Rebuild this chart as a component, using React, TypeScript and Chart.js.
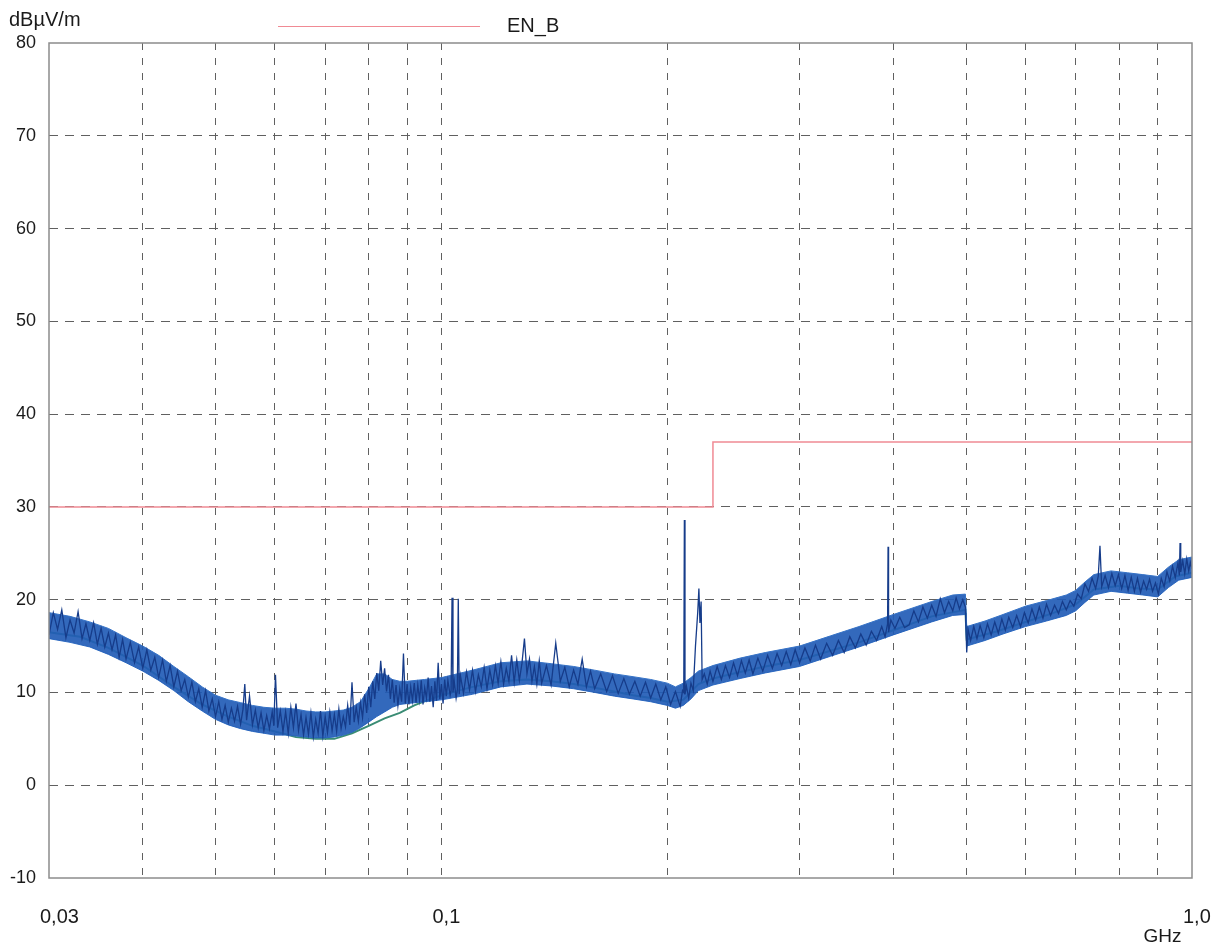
import React, { useEffect, useRef } from "react";
import { Chart, registerables } from "chart.js";

Chart.register(...registerables);

// ---- axis definitions ----
const xTickValues = [30, 40, 50, 60, 70, 80, 90, 100, 200, 300, 400, 500, 600, 700, 800, 900, 1000];
const xTickLabels: Record<number, string> = { 30: "0,03", 100: "0,1", 1000: "1,0" };
const yMin = -10;
const yMax = 80;
const yStep = 10;
const yUnit = "dBµV/m";
const xUnit = "GHz";
const legendLabel = "EN_B";

// ---- limit line EN_B (frequency in MHz, level in dBµV/m) ----
const limitFreq = [30, 230, 230, 1000];
const limitLevel = [30, 30, 37, 37];

// ---- noise band envelope of the peak trace (MHz, dBµV/m) ----
const bandFreq = [
  30, 32, 34, 36, 38, 40, 42, 44, 46, 48,
  50, 52, 54, 56, 58, 60, 62, 64, 66, 68,
  70, 72, 74, 76, 78, 80, 82, 84, 86, 88,
  90, 95, 100, 110, 120, 130, 140, 150, 160, 170,
  180, 190, 200, 205, 210, 215, 220, 225, 230, 250,
  270, 300, 330, 360, 400, 450, 480, 499, 501, 530,
  560, 600, 640, 680, 700, 720, 740, 780, 820, 860,
  900, 930, 960, 1000,
];
const bandLow = [
  15.8, 15.4, 14.9, 14.1, 13.2, 12.3, 11.3, 10.2, 9.0, 8.0,
  7.1, 6.5, 6.1, 5.8, 5.6, 5.4, 5.4, 5.3, 5.2, 5.1,
  5.1, 5.2, 5.4, 5.7, 6.2, 6.8, 7.4, 7.9, 8.4, 8.7,
  8.8, 9.0, 9.2, 9.8, 10.6, 10.9, 10.7, 10.4, 10.0, 9.6,
  9.3, 9.0, 8.6, 8.3, 8.6, 9.3, 10.2, 10.5, 10.8, 11.5,
  12.1, 12.8, 13.9, 14.9, 16.2, 17.6, 18.3, 18.4, 15.0, 15.6,
  16.3, 17.1, 17.7, 18.3, 18.8, 19.7, 20.5, 20.9, 20.7, 20.5,
  20.3, 21.3, 22.1, 22.4,
];
const bandHigh = [
  18.6, 18.2, 17.6, 16.9, 15.9, 15.0, 14.0, 12.8, 11.7, 10.6,
  9.7, 9.2, 8.9, 8.6, 8.4, 8.3, 8.3, 8.2, 8.0, 7.9,
  7.9, 8.0, 8.1, 8.4, 9.0, 10.4, 12.0, 12.0, 11.4, 11.2,
  11.2, 11.4, 11.6, 12.4, 13.2, 13.4, 13.1, 12.8, 12.4, 12.0,
  11.7, 11.4, 11.0, 10.6, 11.0, 11.6, 12.3, 12.6, 12.9, 13.7,
  14.3, 15.0, 16.1, 17.1, 18.4, 19.8, 20.5, 20.6, 17.1, 17.7,
  18.4, 19.3, 19.9, 20.5, 21.0, 21.9, 22.7, 23.1, 22.9, 22.7,
  22.5, 23.5, 24.3, 24.6,
];

// ---- peak trace (blue) ----
const peakFreq = [
  30, 30.4, 30.8, 31.2, 31.6, 32, 32.4, 32.8, 33.2, 33.6,
  34, 34.4, 34.8, 35.2, 35.6, 36, 36.4, 36.8, 37.2, 37.6,
  38, 38.5, 39, 39.5, 40, 40.5, 41, 41.5, 42, 42.5,
  43, 43.5, 44, 44.5, 45, 45.5, 46, 46.5, 47, 47.5,
  48, 48.5, 49, 49.5, 50, 50.5, 51, 51.5, 52, 52.5,
  53, 53.5, 54, 54.4, 54.7, 55, 55.5, 56, 56.5, 57,
  57.5, 58, 58.5, 59, 59.5, 59.8, 60.1, 60.5, 61, 61.5,
  62, 62.5, 63, 63.5, 64, 64.5, 65, 65.5, 66, 66.5,
  67, 67.5, 68, 68.5, 69, 69.5, 70, 70.5, 71, 71.5,
  72, 72.5, 73, 73.5, 74, 74.5, 75, 75.5, 76, 76.5,
  77, 77.5, 78, 78.5, 79, 79.5, 80, 80.5, 81, 81.5,
  82, 82.5, 83, 83.5, 84, 84.5, 85, 85.5, 86, 86.5,
  87, 87.5, 88, 88.5, 89, 89.5, 90, 90.5, 91, 91.5,
  92, 92.5, 93, 93.5, 94, 94.5, 95, 95.5, 96, 96.5,
  97, 97.5, 98, 98.5, 99, 99.5, 100, 100.5, 101, 101.5,
  102, 102.7, 103, 103.3, 103.6, 104, 104.6, 105, 105.3, 105.6,
  106, 107, 108, 109, 110, 111, 112, 113, 114, 115,
  116, 117, 118, 119, 120, 121, 122, 123, 124, 125,
  126, 127, 128, 129, 130, 131, 132, 133, 134, 135,
  136, 138, 140, 142, 144, 146, 148, 150, 152, 154,
  156, 158, 160, 163, 166, 169, 172, 175, 178, 181,
  184, 187, 190, 193, 196, 199, 202, 205, 208, 209.5,
  210.3, 210.7, 211.1, 212, 213.5, 215, 216.5, 218, 219.5, 220.3,
  221, 221.8, 222.5, 224, 226, 228, 230, 233, 236, 239,
  242, 245, 248, 251, 254, 257, 260, 264, 268, 272,
  276, 280, 284, 288, 292, 296, 300, 305, 310, 315,
  320, 326, 332, 338, 344, 350, 356, 362, 368, 374,
  380, 386, 390, 393, 393.6, 394.2, 397, 402, 408, 414,
  420, 426, 432, 438, 444, 450, 456, 462, 468, 474,
  480, 485, 490, 495, 499, 501, 503, 507, 512, 517,
  522, 528, 534, 540, 546, 552, 558, 564, 570, 577,
  584, 591, 598, 605, 612, 619, 626, 633, 640, 648,
  656, 664, 672, 680, 688, 696, 704, 712, 720, 728,
  736, 744, 750, 754, 758, 766, 774, 782, 790, 798,
  806, 814, 822, 830, 838, 846, 854, 862, 870, 878,
  886, 894, 902, 910, 918, 926, 934, 942, 950, 958,
  962, 964, 966, 972, 978, 984, 990, 995, 1000,
];
const peakLevel = [
  16.2, 18.6, 16.8, 18.9, 15.9, 17.8, 16.4, 18.7, 15.8, 17.4,
  15.6, 17.5, 15.2, 16.9, 14.9, 16.4, 14.6, 16.2, 13.8, 15.7,
  13.6, 15.4, 13.2, 14.9, 12.6, 14.6, 12.4, 13.8, 11.6, 13.5,
  11.2, 12.9, 10.6, 12.3, 10.2, 11.4, 9.5, 11.1, 9.0, 10.4,
  8.4, 10.2, 8.0, 9.3, 7.4, 9.0, 7.1, 8.6, 6.8, 8.3,
  6.9, 8.5, 6.6, 8.2, 10.9, 7.0, 9.6, 6.5, 8.1, 6.2,
  7.8, 5.9, 7.5, 6.1, 7.9, 6.4, 11.9, 6.2, 8.0, 5.8,
  7.9, 5.6, 8.4, 6.2, 8.8, 5.9, 7.6, 5.4, 7.3, 5.5,
  7.8, 5.2, 7.1, 5.6, 8.0, 5.3, 7.4, 5.7, 7.9, 5.9,
  7.6, 5.8, 8.2, 6.1, 7.4, 6.3, 8.6, 6.5, 11.1, 6.8,
  8.4, 6.9, 8.9, 7.3, 9.8, 7.8, 10.6, 8.4, 11.2, 9.3,
  12.1, 10.2, 13.4, 10.8, 12.6, 10.1, 11.9, 9.3, 11.4, 8.9,
  10.8, 8.6, 10.4, 9.0, 14.2, 8.8, 10.9, 8.7, 10.6, 9.1,
  11.0, 8.9, 10.8, 9.2, 11.3, 8.7, 10.5, 9.4, 11.6, 9.0,
  10.7, 8.4, 11.2, 9.1, 13.2, 9.3, 10.9, 8.8, 11.4, 9.6,
  11.3, 9.7, 10.2, 20.2, 10.0, 11.2, 9.4, 10.3, 20.1, 9.8,
  11.8, 9.9, 12.2, 10.3, 12.4, 10.1, 11.9, 10.6, 12.7, 10.4,
  12.4, 10.8, 12.9, 11.0, 13.3, 10.9, 12.6, 11.2, 14.0, 11.1,
  13.5, 11.3, 13.1, 15.8, 12.0, 13.6, 11.2, 12.8, 10.9, 13.4,
  11.0, 12.9, 10.8, 15.3, 11.2, 12.7, 10.6, 12.4, 10.9, 13.6,
  10.6, 12.3, 10.4, 12.0, 10.1, 11.8, 9.9, 11.5, 9.8, 11.2,
  9.6, 11.1, 9.4, 10.9, 9.2, 10.6, 8.7, 10.1, 8.5, 10.2,
  10.0, 28.6, 9.8, 10.7, 9.4, 11.0, 10.2, 15.0, 18.6, 21.2,
  17.5, 19.8, 11.4, 12.0, 10.9, 12.3, 11.2, 12.8, 11.4, 12.9,
  11.6, 13.2, 11.8, 13.4, 12.1, 13.5, 12.0, 13.7, 12.3, 14.0,
  12.6, 14.2, 12.9, 14.4, 13.0, 14.6, 13.2, 14.8, 13.4, 15.1,
  13.6, 15.3, 14.0, 15.6, 14.3, 16.0, 14.8, 16.3, 15.1, 16.6,
  15.6, 17.1, 16.0, 17.4, 25.7, 16.5, 17.8, 16.9, 18.1, 17.0,
  17.3, 18.8, 17.6, 19.2, 18.0, 19.4, 18.2, 20.1, 18.6, 19.8,
  18.8, 20.2, 19.0, 20.0, 19.2, 14.3, 16.8, 15.6, 17.1, 15.8,
  17.2, 15.9, 17.4, 16.2, 17.6, 16.4, 17.9, 16.7, 18.1, 17.0,
  18.3, 17.1, 18.6, 17.5, 19.0, 17.8, 19.2, 18.0, 19.5, 18.3,
  19.4, 18.5, 19.8, 18.9, 19.9, 19.3, 20.6, 20.1, 21.7, 20.9,
  22.3, 21.2, 22.5, 25.8, 21.4, 22.6, 21.3, 22.8, 21.5, 22.7,
  21.2, 22.6, 21.0, 22.4, 20.9, 22.3, 20.8, 22.0, 21.1, 22.2,
  20.9, 21.8, 20.6, 22.3, 21.4, 23.0, 22.0, 23.6, 22.4, 24.0,
  22.6, 26.1, 23.0, 24.2, 22.8, 24.4, 23.1, 24.0, 23.3,
];

// ---- average trace (green) ----
const avgFreq = [
  30, 33, 36, 40, 44, 48, 52, 56, 60, 64,
  68, 72, 76, 80, 84, 88, 92, 96, 100, 110,
  120, 130, 140, 150, 160, 170, 180, 190, 200, 210,
  220, 230, 250, 270, 300, 330, 360, 400, 450, 499,
  501, 550, 600, 650, 700, 740, 800, 850, 900, 950, 1000,
];
const avgLevel = [
  16.5, 16.0, 14.8, 12.9, 10.6, 8.7, 7.4, 6.4, 5.8, 5.2,
  5.0, 5.0, 5.6, 6.4, 7.2, 7.8, 8.6, 9.2, 9.7, 10.6,
  11.2, 11.4, 11.2, 10.9, 10.5, 10.1, 9.7, 9.4, 9.0, 9.2,
  10.9, 11.5, 12.2, 12.8, 13.5, 14.5, 15.4, 16.7, 18.2, 18.9,
  15.7, 16.6, 17.6, 18.5, 19.5, 21.1, 21.5, 21.2, 21.1, 22.5, 22.9,
];

const limitColor = "#f08a94";
const peakColor = "#163c8a";
const bandColor = "rgba(34, 92, 182, 0.92)";
const bandEdge = "#3572c6";
const avgColor = "#3a8c74";
const gridColor = "#606060";
const frameColor = "#8c8c8c";
const fontFamily = "'Liberation Sans', Arial, Helvetica, sans-serif";

const decorPlugin = {
  id: "decor",
  afterDraw(chart: any) {
    const { ctx, chartArea: a } = chart;
    ctx.save();
    ctx.strokeStyle = frameColor;
    ctx.lineWidth = 1.5;
    ctx.strokeRect(a.left, a.top, a.right - a.left, a.bottom - a.top);
    ctx.fillStyle = "#1a1a1a";
    ctx.textAlign = "left";
    ctx.textBaseline = "alphabetic";
    ctx.font = `20px ${fontFamily}`;
    ctx.fillText(yUnit, 9, 26);
    ctx.textBaseline = "middle";
    ctx.fillText(legendLabel, 507, 26);
    ctx.font = `19px ${fontFamily}`;
    ctx.textAlign = "center";
    ctx.fillText(xUnit, 1162.5, 937);
    ctx.strokeStyle = limitColor;
    ctx.lineWidth = 1.2;
    ctx.beginPath();
    ctx.moveTo(278, 26.5);
    ctx.lineTo(480, 26.5);
    ctx.stroke();
    ctx.restore();
  },
};

export default function App() {
  const canvasRef = useRef<HTMLCanvasElement | null>(null);

  useEffect(() => {
    document.body.style.margin = "0";
    const canvas = canvasRef.current;
    if (!canvas) return;
    const toPoints = (fs: number[], ls: number[]) => fs.map((f, i) => ({ x: f, y: ls[i] }));
    const edgeX = (v: number) => v === 30 || v === 1000;
    const edgeY = (v: number) => v === yMin || v === yMax;

    const chart = new Chart(canvas, {
      type: "line",
      data: {
        datasets: [
          {
            label: legendLabel,
            data: toPoints(limitFreq, limitLevel),
            borderColor: limitColor,
            borderWidth: 1.5,
            pointRadius: 0,
            tension: 0,
            order: 0,
          },
          {
            label: "Peak",
            data: toPoints(peakFreq, peakLevel),
            borderColor: peakColor,
            borderWidth: 1.3,
            pointRadius: 0,
            tension: 0,
            order: 1,
          },
          {
            label: "Band low",
            data: toPoints(bandFreq, bandLow),
            borderColor: bandEdge,
            borderWidth: 1,
            pointRadius: 0,
            tension: 0,
            fill: false,
            order: 3,
          },
          {
            label: "Band high",
            data: toPoints(bandFreq, bandHigh),
            borderColor: bandEdge,
            backgroundColor: bandColor,
            borderWidth: 1,
            pointRadius: 0,
            tension: 0,
            fill: "-1",
            order: 2,
          },
          {
            label: "Average",
            data: toPoints(avgFreq, avgLevel),
            borderColor: avgColor,
            borderWidth: 2,
            pointRadius: 0,
            tension: 0,
            order: 4,
          },
        ],
      },
      options: {
        responsive: false,
        animation: false,
        layout: { padding: { top: 43, right: 31, left: 0, bottom: 0 } },
        plugins: {
          legend: { display: false },
          tooltip: { enabled: false },
        },
        scales: {
          x: {
            type: "logarithmic",
            min: 30,
            max: 1000,
            afterBuildTicks: (scale: any) => {
              scale.ticks = xTickValues.map((v) => ({ value: v }));
            },
            afterFit: (scale: any) => {
              scale.height = 68;
              scale.paddingLeft = 0;
              scale.paddingRight = 0;
            },
            ticks: {
              autoSkip: false,
              maxRotation: 0,
              minRotation: 0,
              padding: 27,
              align: "start",
              labelOffset: -9,
              color: "#1a1a1a",
              font: { size: 20, family: fontFamily },
              callback: (v: any) => xTickLabels[Number(v)] ?? "",
            },
            grid: {
              drawTicks: false,
              lineWidth: 1,
              color: (c: any) => (c.tick && edgeX(c.tick.value) ? "rgba(0,0,0,0)" : gridColor),
            },
            border: { display: false, dash: [7, 8] },
          },
          y: {
            type: "linear",
            min: yMin,
            max: yMax,
            afterFit: (scale: any) => {
              scale.width = 49;
              scale.paddingTop = 0;
              scale.paddingBottom = 0;
            },
            ticks: {
              stepSize: yStep,
              padding: 13,
              color: "#1a1a1a",
              font: { size: 18, family: fontFamily },
            },
            grid: {
              drawTicks: false,
              lineWidth: 1,
              color: (c: any) => (c.tick && edgeY(c.tick.value) ? "rgba(0,0,0,0)" : gridColor),
            },
            border: { display: false, dash: [9, 7] },
          },
        },
      },
      plugins: [decorPlugin],
    });
    return () => chart.destroy();
  }, []);

  return <canvas ref={canvasRef} width={1223} height={946} style={{ display: "block" }} />;
}
